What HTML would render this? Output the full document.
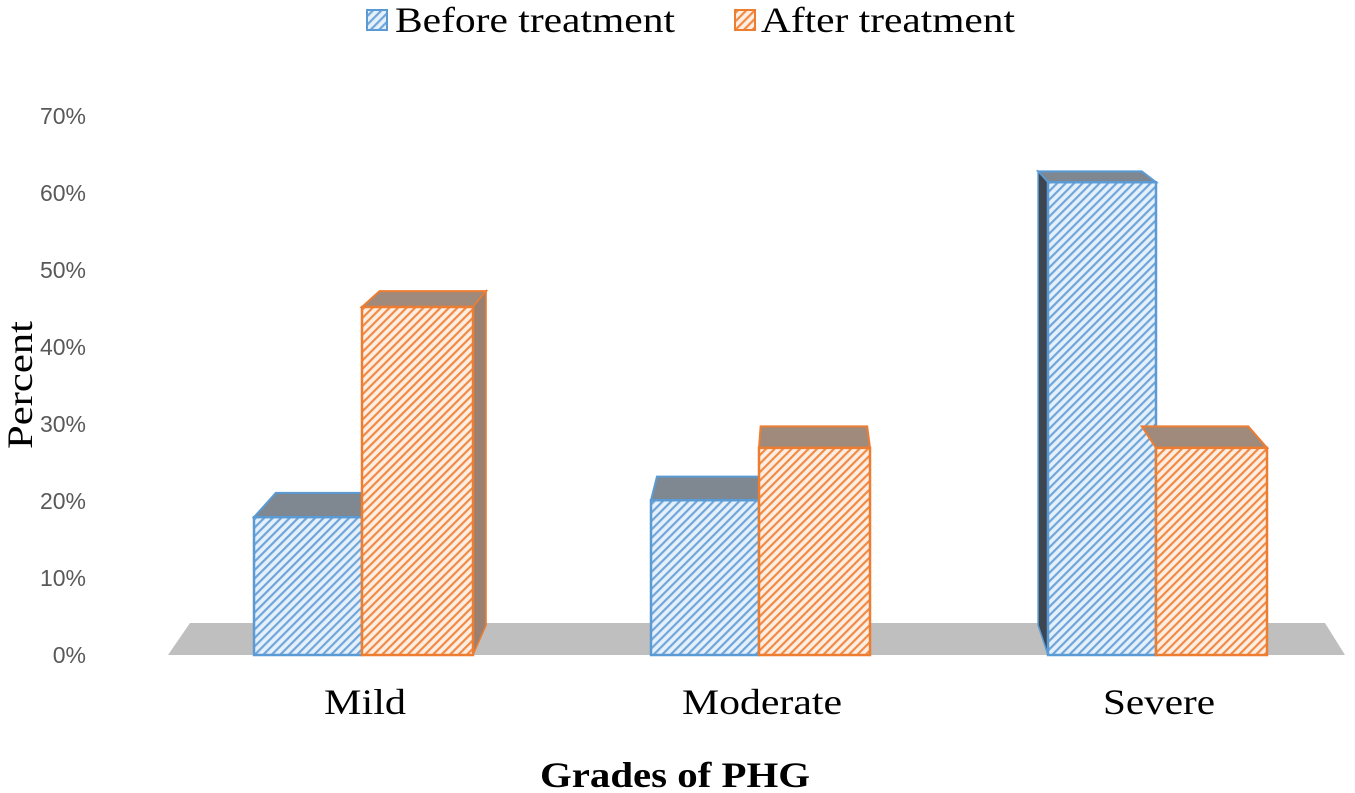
<!DOCTYPE html>
<html><head><meta charset="utf-8"><style>
body{margin:0;background:#fff;}
svg{display:block;}
</style></head><body>
<svg id="chart" width="1355" height="793" viewBox="0 0 1355 793">
<defs>
<pattern id="hb" width="6" height="6" patternUnits="userSpaceOnUse" patternTransform="rotate(45)">
<rect width="6" height="6" fill="#e6f0fa"/><rect width="2.2" height="6" fill="#6fa6da"/></pattern>
<pattern id="ho" width="6" height="6" patternUnits="userSpaceOnUse" patternTransform="rotate(45)">
<rect width="6" height="6" fill="#fdeee4"/><rect width="2.2" height="6" fill="#f08a44"/></pattern>
</defs>
<g id="legend">
<g><rect x="367" y="10" width="20" height="20" fill="url(#hb)" stroke="#5b9bd5" stroke-width="2"/>
<text x="395" y="32" textLength="280" lengthAdjust="spacingAndGlyphs" font-family="Liberation Serif, serif" font-size="36" fill="#000">Before treatment</text></g>
<g><rect x="735" y="10" width="20" height="20" fill="url(#ho)" stroke="#ed7d31" stroke-width="2"/>
<text x="761" y="32" textLength="254" lengthAdjust="spacingAndGlyphs" font-family="Liberation Serif, serif" font-size="36" fill="#000">After treatment</text></g>
</g>
<polygon points="190,623 1325,623 1345,655 168,655" fill="#bfbfbf"/>
<g id="yaxis"></g>
<g id="bars"></g>
<g id="xaxis"></g>
<text transform="translate(32,385) rotate(-90)" text-anchor="middle" textLength="128" lengthAdjust="spacingAndGlyphs" font-family="Liberation Serif, serif" font-size="36" fill="#000">Percent</text>
<text x="540" y="787" textLength="270" lengthAdjust="spacingAndGlyphs" font-family="Liberation Serif, serif" font-size="36" font-weight="bold" fill="#000">Grades of PHG</text>
</svg>
<script>
const categories=["Mild","Moderate","Severe"];
const beforeValues=[17.9,20.1,61.4];
const afterValues=[45.2,26.9,26.9];
const yTicks=[0,10,20,30,40,50,60,70];
const labelWidths=[82,160,112];
const NS="http://www.w3.org/2000/svg";
function y(v){return 655-v*7.7;}
function groupX(i){return 362+i*397;}
const VX=800,VY=-90,F=0.04;
function back(px,py){return [px+F*(VX-px),py+F*(VY-py)];}
function mk(tag,attrs,parent){const e=document.createElementNS(NS,tag);for(const k in attrs)e.setAttribute(k,attrs[k]);parent.appendChild(e);return e;}
const ya=document.getElementById('yaxis');
yTicks.forEach(t=>{
  const e=mk('text',{x:86,y:y(t)+8,'text-anchor':'end','font-family':'Liberation Sans, sans-serif','font-size':23,fill:'#595959'},ya);
  e.textContent=t+'%';
  
  
});
const bars=document.getElementById('bars');
function bar(x0,x1,v,pat,stroke,topC,sideC,name,side){
  const g=mk('g',{},bars);
  
  
  const yt=y(v),yb=655;
  const tl=back(x0,yt),tr=back(x1,yt),bl=back(x0,yb),br=back(x1,yb);
  mk('polygon',{points:`${x0},${yt} ${x1},${yt} ${tr[0]},${tr[1]} ${tl[0]},${tl[1]}`,fill:topC,stroke:stroke,'stroke-width':2},g);
  if(side==='r' && tr[0]>x1) mk('polygon',{points:`${x1},${yt} ${tr[0]},${tr[1]} ${br[0]},${br[1]} ${x1},${yb}`,fill:sideC,stroke:stroke,'stroke-width':1.5},g);
  if(side==='l' && tl[0]<x0) mk('polygon',{points:`${x0},${yt} ${tl[0]},${tl[1]} ${bl[0]},${bl[1]} ${x0},${yb}`,fill:sideC,stroke:stroke,'stroke-width':1.5},g);
  mk('rect',{x:x0,y:yt,width:x1-x0,height:yb-yt,fill:pat,stroke:stroke,'stroke-width':2.5},g);
}
categories.forEach((c,i)=>{
  const cx=groupX(i);
  bar(cx-108,cx,beforeValues[i],'url(#hb)','#5b9bd5','#7f8790','#3d4650','bar-before-'+c.toLowerCase(),'l');
  bar(cx,cx+111,afterValues[i],'url(#ho)','#ed7d31','#a08a7c','#9a8070','bar-after-'+c.toLowerCase(),'r');
  const t=mk('text',{x:cx+3-labelWidths[i]/2,y:714,textLength:labelWidths[i],lengthAdjust:'spacingAndGlyphs','font-family':'Liberation Serif, serif','font-size':36,fill:'#000'},document.getElementById('xaxis'));
  t.textContent=c;
  
  
});
</script>
</body></html>
